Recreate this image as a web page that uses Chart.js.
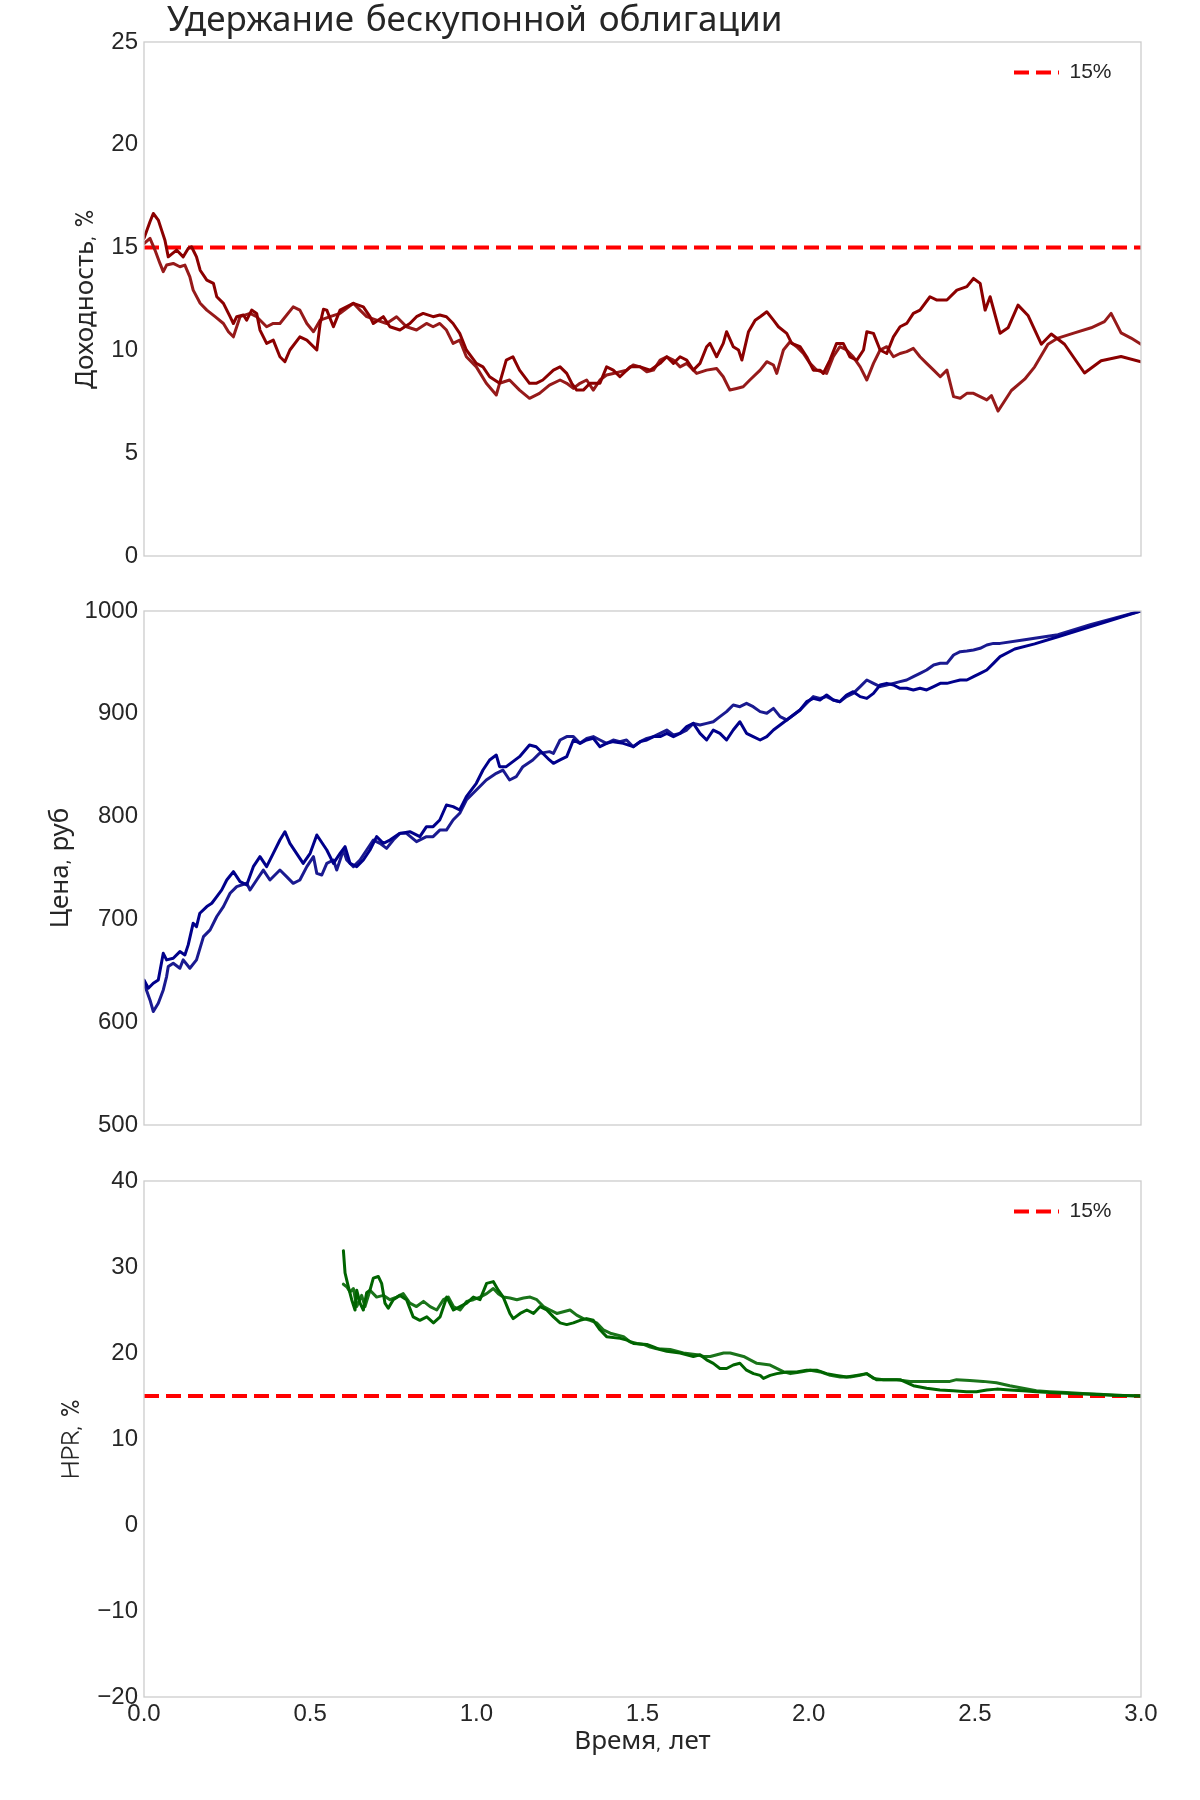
<!DOCTYPE html>
<html><head><meta charset="utf-8">
<script src="https://cdn.jsdelivr.net/npm/chart.js@4.4.1/dist/chart.umd.min.js"></script>
<style>
html,body{margin:0;padding:0;background:#fff;}
#wrap{position:relative;width:1200px;height:1800px;}
.box{position:absolute;left:0;width:1200px;}
</style></head><body>
<div id="wrap">
<div class="box" style="top:0;height:580px"><canvas id="c1" width="1200" height="580"></canvas></div>
<div class="box" style="top:580px;height:570px"><canvas id="c2" width="1200" height="570"></canvas></div>
<div class="box" style="top:1150px;height:650px"><canvas id="c3" width="1200" height="650"></canvas></div>
</div>
<script>
// ---------- data (time in years, value) ----------
const yield1 = [[0,15.45],[0.018,16.26],[0.028,16.66],[0.043,16.34],[0.053,15.85],[0.063,15.36],[0.073,14.55],[0.098,14.88],[0.118,14.55],[0.133,14.96],[0.143,15.04],[0.158,14.55],[0.169,13.9],[0.189,13.42],[0.209,13.26],[0.219,12.61],[0.239,12.29],[0.259,11.64],[0.269,11.31],[0.279,11.64],[0.299,11.72],[0.309,11.47],[0.324,11.96],[0.339,11.8],[0.349,10.99],[0.369,10.34],[0.389,10.5],[0.409,9.69],[0.424,9.45],[0.439,10.02],[0.469,10.66],[0.49,10.5],[0.52,10.02],[0.53,11.3],[0.54,12.0],[0.55,11.96],[0.57,11.15],[0.59,11.96],[0.63,12.29],[0.66,12.12],[0.68,11.64],[0.69,11.31],[0.72,11.64],[0.74,11.15],[0.77,10.99],[0.8,11.31],[0.82,11.64],[0.84,11.8],[0.87,11.64],[0.89,11.72],[0.91,11.64],[0.93,11.31],[0.95,10.83],[0.97,10.02],[1.0,9.37],[1.02,9.2],[1.04,8.72],[1.07,8.4],[1.09,9.53],[1.11,9.69],[1.13,9.04],[1.16,8.4],[1.18,8.4],[1.2,8.56],[1.232,9.04],[1.252,9.2],[1.272,8.88],[1.287,8.4],[1.302,8.07],[1.322,8.07],[1.342,8.4],[1.372,8.4],[1.392,9.2],[1.412,9.04],[1.432,8.72],[1.463,9.2],[1.493,9.2],[1.523,9.04],[1.553,9.37],[1.573,9.69],[1.593,9.37],[1.613,9.69],[1.633,9.53],[1.653,9.04],[1.673,9.37],[1.693,10.18],[1.703,10.34],[1.723,9.69],[1.743,10.34],[1.753,10.91],[1.773,10.18],[1.789,10.02],[1.799,9.53],[1.819,10.91],[1.839,11.47],[1.854,11.64],[1.874,11.88],[1.894,11.47],[1.909,11.15],[1.934,10.83],[1.949,10.34],[1.974,10.18],[1.994,9.69],[2.014,9.04],[2.034,9.04],[2.044,8.88],[2.064,9.53],[2.084,10.34],[2.104,10.34],[2.124,9.69],[2.145,9.53],[2.165,10.02],[2.175,10.91],[2.195,10.83],[2.215,10.02],[2.235,9.85],[2.255,10.66],[2.275,11.15],[2.295,11.31],[2.315,11.8],[2.335,11.96],[2.365,12.61],[2.386,12.45],[2.416,12.45],[2.446,12.93],[2.476,13.1],[2.496,13.5],[2.516,13.26],[2.531,11.96],[2.546,12.61],[2.576,10.83],[2.6,11.1],[2.63,12.2],[2.66,11.7],[2.7,10.3],[2.73,10.8],[2.77,10.3],[2.83,8.9],[2.88,9.5],[2.94,9.7],[3.0,9.45]];
const yield2 = [[0,15.2],[0.018,15.45],[0.033,14.88],[0.048,14.23],[0.058,13.83],[0.068,14.15],[0.088,14.23],[0.108,14.07],[0.123,14.15],[0.138,13.58],[0.148,12.93],[0.169,12.29],[0.189,11.96],[0.214,11.64],[0.239,11.31],[0.254,10.91],[0.269,10.66],[0.289,11.64],[0.319,11.8],[0.339,11.64],[0.369,11.15],[0.389,11.31],[0.409,11.31],[0.449,12.12],[0.469,11.96],[0.49,11.31],[0.51,10.91],[0.53,11.47],[0.56,11.64],[0.59,11.8],[0.63,12.29],[0.65,11.96],[0.67,11.64],[0.7,11.47],[0.73,11.31],[0.76,11.64],[0.79,11.15],[0.82,10.99],[0.85,11.31],[0.87,11.15],[0.89,11.31],[0.91,10.99],[0.93,10.34],[0.95,10.5],[0.97,9.69],[1.0,9.2],[1.03,8.4],[1.06,7.83],[1.07,8.4],[1.1,8.56],[1.13,8.07],[1.16,7.67],[1.19,7.91],[1.22,8.31],[1.252,8.56],[1.272,8.4],[1.292,8.15],[1.312,8.4],[1.332,8.56],[1.352,8.07],[1.372,8.56],[1.392,8.8],[1.412,8.88],[1.452,9.04],[1.472,9.29],[1.493,9.2],[1.513,8.96],[1.533,9.04],[1.553,9.53],[1.573,9.69],[1.593,9.53],[1.613,9.2],[1.633,9.37],[1.663,8.88],[1.693,9.04],[1.723,9.12],[1.743,8.72],[1.763,8.07],[1.783,8.15],[1.803,8.23],[1.823,8.56],[1.854,9.04],[1.874,9.45],[1.894,9.29],[1.904,8.88],[1.924,10.02],[1.944,10.42],[1.964,10.18],[1.984,9.85],[2.004,9.37],[2.024,9.04],[2.054,8.88],[2.074,9.69],[2.094,10.18],[2.114,10.02],[2.134,9.69],[2.155,9.2],[2.175,8.56],[2.195,9.37],[2.215,10.02],[2.235,10.18],[2.255,9.69],[2.275,9.85],[2.295,9.94],[2.315,10.1],[2.335,9.69],[2.355,9.37],[2.376,9.04],[2.396,8.72],[2.416,9.04],[2.436,7.75],[2.456,7.67],[2.476,7.91],[2.496,7.91],[2.516,7.75],[2.536,7.59],[2.55,7.8],[2.57,7.05],[2.61,8.05],[2.65,8.6],[2.68,9.2],[2.72,10.3],[2.75,10.6],[2.8,10.85],[2.85,11.1],[2.89,11.4],[2.91,11.8],[2.94,10.85],[2.97,10.6],[3.0,10.3]];

const price1 = [[0,641.1],[0.013,633],[0.028,637.9],[0.043,641.1],[0.058,667],[0.068,660.6],[0.088,662.2],[0.108,668.7],[0.123,665.4],[0.133,675.2],[0.148,696.3],[0.158,693],[0.168,706],[0.189,712.5],[0.204,715.7],[0.219,722.2],[0.234,728.7],[0.249,738.3],[0.269,746.4],[0.289,736.7],[0.309,733.5],[0.329,751.3],[0.349,761],[0.369,751.3],[0.389,764.3],[0.409,777.2],[0.424,785.3],[0.439,774],[0.459,764.3],[0.479,754.5],[0.5,764.3],[0.52,782.1],[0.53,777.2],[0.55,767.5],[0.57,754.5],[0.59,764.3],[0.605,770.8],[0.62,754.5],[0.64,751.3],[0.66,757.8],[0.68,767.5],[0.7,780.5],[0.72,774],[0.74,777.2],[0.77,783.7],[0.8,785.3],[0.83,780.5],[0.85,790.2],[0.87,790.2],[0.89,796.7],[0.91,811.3],[0.93,809.7],[0.95,806.4],[0.97,819.4],[1.0,832.4],[1.02,845.3],[1.04,855.1],[1.06,859.9],[1.07,848.6],[1.09,848.6],[1.13,858.3],[1.16,869.6],[1.18,868],[1.22,855.1],[1.232,851.8],[1.252,855.1],[1.272,858.3],[1.292,874.5],[1.312,871.3],[1.332,874.5],[1.352,876.1],[1.372,868],[1.392,871.3],[1.412,872.9],[1.442,871.3],[1.472,868],[1.493,872.9],[1.513,874.5],[1.533,877.8],[1.553,877.8],[1.573,881],[1.593,877.8],[1.613,881],[1.633,887.5],[1.653,890.7],[1.673,881],[1.693,874.5],[1.713,884.2],[1.733,881],[1.753,874.5],[1.773,884.2],[1.793,892.3],[1.813,881],[1.833,877.8],[1.854,874.5],[1.874,877.8],[1.894,884.2],[1.914,889.1],[1.934,894],[1.954,898.8],[1.974,903.7],[1.994,911.8],[2.014,915],[2.034,913.4],[2.054,918.3],[2.074,913.4],[2.094,911.8],[2.114,918.3],[2.134,921.5],[2.155,916.7],[2.175,915],[2.195,919.9],[2.215,928],[2.235,929.6],[2.255,928],[2.275,924.8],[2.295,924.8],[2.315,923.2],[2.335,924.8],[2.355,923.2],[2.376,926.4],[2.396,929.6],[2.416,929.6],[2.436,931.3],[2.456,932.9],[2.476,932.9],[2.496,936.1],[2.516,939.4],[2.536,942.6],[2.556,949.1],[2.576,955.6],[2.62,963],[2.68,968],[2.75,975],[2.82,982],[2.9,990],[3.0,1000]];
const price2 = [[0,637.9],[0.018,621.7],[0.028,610.4],[0.043,618.5],[0.058,631.4],[0.068,644.4],[0.073,654.1],[0.088,657.4],[0.108,652.5],[0.118,660.6],[0.138,652.5],[0.158,660.6],[0.179,683.3],[0.199,689.8],[0.219,702.8],[0.239,712.5],[0.259,725.4],[0.279,731.9],[0.309,735.2],[0.319,728.6],[0.339,738.3],[0.359,748],[0.379,738.3],[0.409,748],[0.429,741.6],[0.449,735.1],[0.469,738.3],[0.49,751.3],[0.51,761],[0.52,744.8],[0.535,743.2],[0.55,754.5],[0.57,757.8],[0.58,748],[0.6,767.5],[0.61,757.8],[0.63,751.3],[0.65,757.8],[0.67,767.5],[0.69,777.2],[0.71,774],[0.73,769.1],[0.75,777.2],[0.77,783.7],[0.79,783.7],[0.82,775.6],[0.85,780.5],[0.87,780.5],[0.89,786.9],[0.91,786.9],[0.93,796.7],[0.95,803.2],[0.97,816.1],[1.0,825.9],[1.03,835.6],[1.06,842.1],[1.08,845.3],[1.1,835.6],[1.12,838.8],[1.14,848.6],[1.17,855.1],[1.19,861.5],[1.22,863.2],[1.232,861.5],[1.252,874.5],[1.272,877.8],[1.292,877.8],[1.312,871.3],[1.332,876.1],[1.352,877.8],[1.372,874.5],[1.392,871.3],[1.412,874.5],[1.432,872.9],[1.452,874.5],[1.472,868],[1.493,872.9],[1.513,876.1],[1.533,877.8],[1.553,881],[1.573,884.2],[1.593,879.4],[1.613,881],[1.633,884.2],[1.653,890.7],[1.673,889.1],[1.693,890.7],[1.713,892.3],[1.733,897.2],[1.753,902.1],[1.773,908.6],[1.793,906.9],[1.813,910.2],[1.833,906.9],[1.854,902.1],[1.874,900.5],[1.894,905.3],[1.914,897.2],[1.934,894],[1.954,898.8],[1.974,903.7],[1.994,910.2],[2.014,916.7],[2.034,915],[2.054,916.7],[2.074,913.4],[2.094,911.8],[2.114,916.7],[2.134,919.9],[2.155,926.4],[2.175,932.9],[2.195,929.6],[2.215,926.4],[2.235,928],[2.255,929.6],[2.275,931.3],[2.295,932.9],[2.315,936.1],[2.335,939.4],[2.355,942.6],[2.376,947.5],[2.396,949.1],[2.416,949.1],[2.436,957.2],[2.456,960.4],[2.476,961.1],[2.496,962.1],[2.516,963.7],[2.536,966.9],[2.556,968.5],[2.576,968.5],[2.65,972],[2.75,977],[2.85,987],[2.92,993],[3.0,1000]];

const hpr1 = [[0.6,31.9],[0.605,29.3],[0.615,27.7],[0.625,26.2],[0.635,25.0],[0.64,27.3],[0.65,25.8],[0.66,25.0],[0.67,27.0],[0.68,27.3],[0.69,28.7],[0.705,28.9],[0.715,28.1],[0.725,25.8],[0.735,25.2],[0.75,26.2],[0.77,26.7],[0.79,26.2],[0.81,24.2],[0.83,23.8],[0.851,24.2],[0.871,23.5],[0.891,24.2],[0.911,26.5],[0.931,25.0],[0.951,25.4],[0.971,25.8],[0.991,26.5],[1.011,26.2],[1.031,28.1],[1.051,28.3],[1.066,27.3],[1.081,26.5],[1.101,24.6],[1.111,24.0],[1.132,24.6],[1.152,25.0],[1.172,24.6],[1.192,25.4],[1.212,25.0],[1.232,24.2],[1.252,23.5],[1.272,23.3],[1.292,23.5],[1.312,23.8],[1.332,24.0],[1.352,23.8],[1.372,22.7],[1.392,21.9],[1.433,21.7],[1.453,21.5],[1.473,21.1],[1.513,21.0],[1.533,20.7],[1.553,20.4],[1.573,20.2],[1.613,20.0],[1.633,19.8],[1.653,19.6],[1.673,19.8],[1.693,19.2],[1.713,18.8],[1.733,18.2],[1.753,18.2],[1.773,18.6],[1.793,18.8],[1.813,18.0],[1.834,17.6],[1.854,17.4],[1.864,17.05],[1.884,17.4],[1.904,17.6],[1.934,17.8],[1.964,17.8],[1.994,18.0],[2.024,18.0],[2.054,17.6],[2.084,17.4],[2.114,17.2],[2.144,17.4],[2.174,17.6],[2.204,16.9],[2.24,16.9],[2.275,16.9],[2.315,16.2],[2.355,15.9],[2.395,15.7],[2.435,15.6],[2.475,15.5],[2.505,15.5],[2.536,15.7],[2.566,15.8],[2.605,15.7],[2.645,15.6],[2.685,15.5],[2.725,15.4],[2.79,15.3],[2.85,15.2],[2.92,15.1],[3.0,15.0]];
const hpr2 = [[0.6,28.0],[0.61,27.7],[0.62,27.1],[0.63,27.5],[0.64,25.4],[0.655,26.7],[0.665,25.4],[0.68,27.3],[0.7,26.5],[0.72,26.7],[0.74,26.2],[0.76,26.5],[0.78,26.9],[0.8,25.8],[0.82,25.4],[0.841,26.0],[0.861,25.4],[0.881,25.0],[0.901,26.2],[0.916,26.5],[0.931,25.4],[0.951,25.0],[0.971,26.0],[0.991,26.2],[1.011,26.5],[1.031,26.9],[1.051,27.5],[1.066,26.9],[1.081,26.5],[1.101,26.4],[1.122,26.2],[1.142,26.4],[1.162,26.5],[1.182,26.2],[1.202,25.4],[1.222,25.0],[1.242,24.6],[1.262,24.8],[1.282,25.0],[1.302,24.4],[1.322,24.0],[1.342,23.8],[1.362,23.5],[1.382,22.7],[1.403,22.3],[1.423,22.1],[1.443,21.9],[1.463,21.3],[1.483,21.1],[1.503,21.0],[1.523,20.7],[1.543,20.5],[1.583,20.4],[1.623,20.0],[1.664,19.8],[1.684,19.6],[1.704,19.6],[1.724,19.8],[1.744,20.0],[1.764,20.0],[1.784,19.8],[1.804,19.6],[1.824,19.2],[1.844,18.8],[1.884,18.6],[1.925,17.8],[1.945,17.6],[1.975,17.8],[2.005,18.0],[2.035,17.8],[2.065,17.4],[2.095,17.2],[2.125,17.2],[2.155,17.4],[2.175,17.6],[2.195,17.05],[2.225,16.9],[2.265,16.9],[2.305,16.7],[2.345,16.7],[2.385,16.7],[2.425,16.7],[2.445,16.9],[2.485,16.8],[2.525,16.7],[2.565,16.55],[2.605,16.2],[2.645,15.9],[2.685,15.6],[2.725,15.5],[2.775,15.4],[2.825,15.3],[2.875,15.2],[2.925,15.1],[3.0,15.0]];

const targetLevel = [[0,15],[3,15]];
const targetLabel = '15%';
const timeTicks = [0, 0.5, 1, 1.5, 2, 2.5, 3];

const chartTitle = 'Удержание бескупонной облигации';
const yTitles = ['Доходность, %', 'Цена, руб', 'HPR, %'];
const xTitle = 'Время, лет';

// ---------- styling ----------
const TXT = '#262626';
const tickFont = {family: "'Liberation Sans', Arial, sans-serif", size: 24};
const labelFont = {family: "'Comic Sans MS','Comic Neue','Noto Sans',sans-serif", size: 26};
const pts = arr => arr.map(([x, y]) => ({x, y}));
const fmtY = v => (v < 0 ? '\u2212' + Math.abs(v) : String(v));

const framePlugin = {
  id: 'frame',
  afterDatasetsDraw(chart) {
    const {ctx, chartArea: a} = chart;
    ctx.save();
    ctx.strokeStyle = '#cccccc';
    ctx.lineWidth = 1.3;
    ctx.strokeRect(a.left, a.top, a.right - a.left, a.bottom - a.top);
    ctx.restore();
  }
};
const placeBoxes = {
  id: 'placeBoxes',
  afterLayout(chart) {
    const lg = chart.legend;
    if (lg && lg.options.display) {
      lg.left = chart.chartArea.right - 127 - lg.options.labels.padding;
      lg.top = chart.chartArea.top + 4;
    }
    const tb = chart.titleBlock;
    if (tb && tb.options.display) {
      tb.left = chart.chartArea.left + 23;
      tb.right = tb.left + (chart.chartArea.right - chart.chartArea.left);
    }
  }
};

function lineDs(label, data, color) {
  return {label, data: pts(data), borderColor: color, backgroundColor: color,
    borderWidth: 3, pointRadius: 0, pointHoverRadius: 0, tension: 0, fill: false,
    borderJoinStyle: 'round', borderCapStyle: 'round'};
}
function targetDs() {
  return {label: targetLabel, data: pts(targetLevel), borderColor: '#ff0000', backgroundColor: '#ff0000',
    borderWidth: 4, borderDash: [15, 7], pointRadius: 0, tension: 0, fill: false};
}

function makeChart(id, o) {
  const legendOpts = o.legend ? {
    display: true, position: 'chartArea', align: 'start',
    labels: {
      usePointStyle: true, pointStyle: 'line', pointStyleWidth: 45, padding: 16,
      textAlign: 'left', color: TXT,
      font: {family: "'Liberation Sans', Arial, sans-serif", size: 21},
      generateLabels(chart) {
        const idx = chart.data.datasets.findIndex(d => d.label === targetLabel);
        return [{text: targetLabel, fillStyle: '#ff0000', strokeStyle: '#ff0000', lineWidth: 4,
          lineDash: [15, 7], pointStyle: 'line', hidden: false, datasetIndex: idx, fontColor: TXT, textAlign: 'left'}];
      }
    }
  } : {display: false};
  return new Chart(document.getElementById(id), {
    type: 'line',
    data: {datasets: o.datasets},
    options: {
      responsive: false, animation: false, devicePixelRatio: 1,
      layout: {padding: {left: 0, right: 59, top: o.padTop, bottom: o.padBottom}},
      plugins: {
        legend: legendOpts,
        tooltip: {enabled: false},
        title: o.title ? {display: true, text: o.title, align: 'start', fullSize: false, color: TXT,
          font: {family: labelFont.family, size: 35, weight: 'normal'}, padding: {top: 0, bottom: 0}} : {display: false}
      },
      scales: {
        x: {
          type: 'linear', min: 0, max: 3, display: o.showX,
          afterBuildTicks: s => { s.ticks = timeTicks.map(v => ({value: v})); },
          ticks: {font: tickFont, color: TXT, padding: 3, maxRotation: 0, autoSkip: false,
            callback: v => Number(v).toFixed(1)},
          grid: {display: false, drawTicks: false}, border: {display: false},
          title: {display: o.showX, text: xTitle, font: labelFont, color: TXT, padding: {top: 0, bottom: 0}},
          afterFit: s => { if (o.showX) s.height = 60; }
        },
        y: {
          min: o.yMin, max: o.yMax,
          ticks: {stepSize: o.yStep, font: tickFont, color: TXT, padding: 6, callback: fmtY},
          grid: {display: false, drawTicks: false}, border: {display: false},
          title: {display: true, text: o.yTitle, font: labelFont, color: TXT, padding: {top: o.yTitleX - 15.6, bottom: 0}},
          afterFit: s => { s.width = 144; }
        }
      }
    },
    plugins: [framePlugin, placeBoxes]
  });
}

makeChart('c1', {
  title: chartTitle, yTitle: yTitles[0], yTitleX: 86, yMin: 0, yMax: 25, yStep: 5,
  padTop: 0, padBottom: 24, showX: false, legend: true,
  datasets: [lineDs('Доходность 1', yield1, '#8b0000'), lineDs('Доходность 2', yield2, '#961a1a'), targetDs()]
});
makeChart('c2', {
  yTitle: yTitles[1], yTitleX: 61, yMin: 500, yMax: 1000, yStep: 100,
  padTop: 31, padBottom: 25, showX: false, legend: false,
  datasets: [lineDs('Цена 1', price1, '#00008b'), lineDs('Цена 2', price2, '#1a1a90')]
});
makeChart('c3', {
  yTitle: yTitles[2], yTitleX: 72, yMin: -20, yMax: 40, yStep: 10,
  padTop: 31, padBottom: 43, showX: true, legend: true,
  datasets: [lineDs('HPR 1', hpr1, '#006400'), lineDs('HPR 2', hpr2, '#1a741a'), targetDs()]
});
</script>
</body></html>
